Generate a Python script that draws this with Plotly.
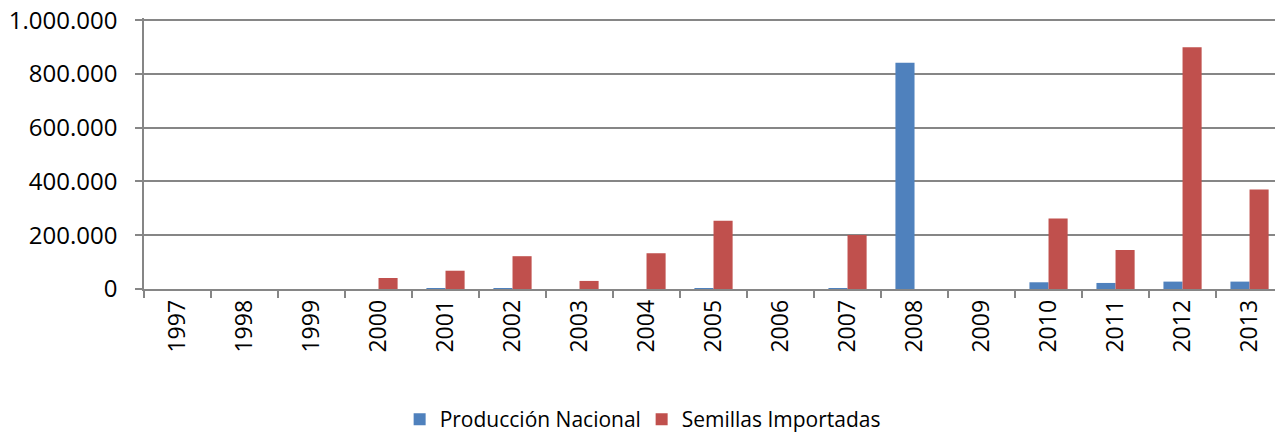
import plotly.graph_objects as go

years = ["1997", "1998", "1999", "2000", "2001", "2002", "2003", "2004", "2005",
         "2006", "2007", "2008", "2009", "2010", "2011", "2012", "2013"]
produccion_nacional = [0, 0, 0, 0, 3000, 3000, 0, 0, 3000,
                       0, 3000, 842000, 0, 25000, 22500, 27500, 27500]
semillas_importadas = [0, 0, 0, 41000, 68000, 122000, 30000, 133000, 254000,
                       0, 201000, 0, 0, 262000, 145000, 899000, 370000]
y_ticks = [0, 200000, 400000, 600000, 800000, 1000000]

fig = go.Figure()
fig.add_trace(go.Bar(x=years, y=produccion_nacional, name="Producción Nacional",
                     marker=dict(color="#4F81BD", line=dict(width=0))))
fig.add_trace(go.Bar(x=years, y=semillas_importadas, name="Semillas Importadas",
                     marker=dict(color="#C0504D", line=dict(width=0))))

font_family = "Open Sans"
fig.update_layout(
    width=1275, height=435,
    margin=dict(l=144, r=0, t=17.5, b=146, autoexpand=False),
    paper_bgcolor="white", plot_bgcolor="white",
    barmode="group", bargap=0.43, bargroupgap=0,
    separators=",.",
    font=dict(family=font_family, color="#000000"),
    showlegend=True,
    legend=dict(orientation="h", x=0.44, xanchor="center", y=-0.482, yanchor="middle",
                font=dict(size=21, family=font_family), traceorder="normal",
                itemwidth=30, entrywidth=197, entrywidthmode="pixels"),
)
fig.update_xaxes(
    type="category", range=[-0.5, 16.38], tickson="boundaries",
    ticks="outside", ticklen=7, tickcolor="#868686", tickwidth=1.5,
    tickangle=-90, tickfont=dict(size=23, family=font_family),
    showline=True, linecolor="#868686", linewidth=1.5,
    showgrid=False, zeroline=False,
)
fig.update_yaxes(
    range=[0, 1008000], tickvals=y_ticks, tickformat=",d",
    ticks="outside", ticklen=7, tickcolor="#868686", tickwidth=1.5,
    tickfont=dict(size=24, family=font_family),
    ticklabelstandoff=13, ticklabeloverflow="allow",
    showline=True, linecolor="#868686", linewidth=1.5,
    showgrid=True, gridcolor="#868686", gridwidth=1.5,
    zeroline=False,
)

fig.write_html("out.html",
               config={"displayModeBar": False},
               post_script="document.body.style.margin='0px';document.body.style.overflow='hidden';")
